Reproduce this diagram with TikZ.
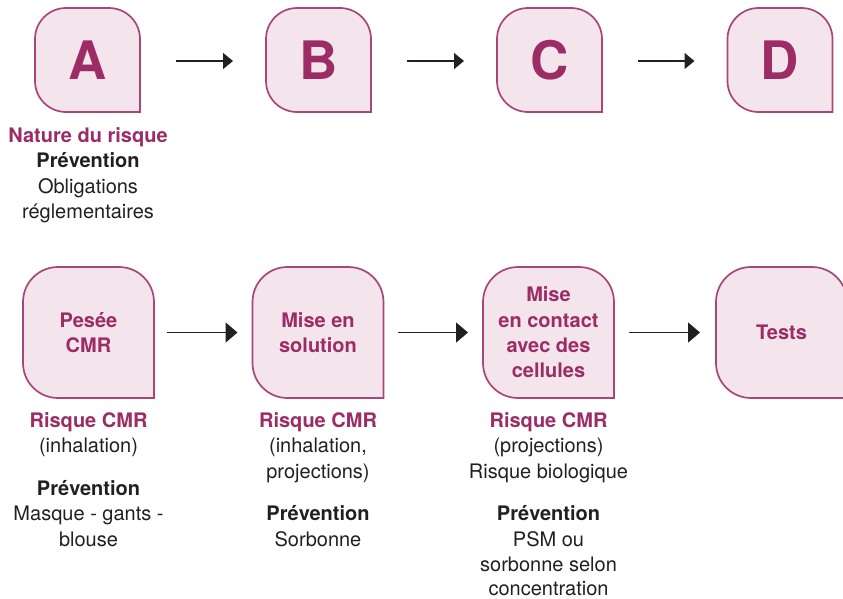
\documentclass[tikz,border=0pt]{standalone}
\usepackage{fontspec}
\setmainfont{TeX Gyre Heros}
\usetikzlibrary{arrows.meta,backgrounds}
\definecolor{mag}{HTML}{9C2C65}
\definecolor{boxfill}{HTML}{F4E4EC}
\definecolor{boxline}{HTML}{A8467A}
\definecolor{ink}{HTML}{231F20}
\tikzset{
  leaf/.style={draw=boxline, fill=boxfill, line width=1.7pt},
  boxtext/.style={inner sep=0pt, outer sep=0pt, align=center, text=mag,
     font=\fontsize{20}{25.3}\selectfont\bfseries},
  bigletter/.style={inner sep=0pt, outer sep=0pt, text=mag,
     font=\fontsize{53}{60}\selectfont\bfseries},
  head/.style={anchor=base, inner sep=0pt, text=mag, font=\fontsize{20}{25}\selectfont\bfseries},
  sub/.style={anchor=base, inner sep=0pt, text=ink, font=\fontsize{20}{25}\selectfont\bfseries},
  body/.style={anchor=base, inner sep=0pt, text=ink, font=\fontsize{20}{25}\selectfont},
  arrsmall/.style={draw=ink, line width=1.5pt, -{Triangle[length=10pt,width=16pt]}},
  arrbig/.style={draw=ink, line width=1.8pt, -{Triangle[length=12pt,width=20pt]}},
}
% name, x, y, w, h, r, style, text
\newcommand\leafbox[8]{%
  \node[#7, minimum width=#4pt, minimum height=#5pt] (#1) at (#2,#3) {#8};
  \begin{pgfonlayer}{background}
  \draw[leaf] (#1.south east) -- ([xshift=#6pt]#1.south west)
     arc[start angle=270,end angle=180,radius=#6pt]
     -- ([yshift=-#6pt]#1.north west)
     arc[start angle=180,end angle=90,radius=#6pt]
     -- ([xshift=-#6pt]#1.north east)
     arc[start angle=90,end angle=0,radius=#6pt]
     -- cycle;
  \end{pgfonlayer}
}
\begin{document}
\begin{tikzpicture}[x=1pt,y=1pt]
\useasboundingbox (0,0) rectangle (843,-598);
% top row
\leafbox{A}{87.5}{-60}{105}{104}{31}{bigletter}{A}
\leafbox{B}{318.5}{-60}{105}{104}{31}{bigletter}{B}
\leafbox{C}{549.5}{-60}{105}{104}{31}{bigletter}{C}
\leafbox{D}{780}{-60}{105}{104}{31}{bigletter}{D}
\draw[arrsmall] ([xshift=36pt,yshift=-1pt]A.east) -- ([xshift=-33pt,yshift=-1pt]B.west);
\draw[arrsmall] ([xshift=36pt,yshift=-1pt]B.east) -- ([xshift=-33pt,yshift=-1pt]C.west);
\draw[arrsmall] ([xshift=36pt,yshift=-1pt]C.east) -- ([xshift=-33pt,yshift=-1pt]D.west);
\node[head] (a1) at (88,-142) {Nature du risque};
\node[sub]  (a2) at (88,-167.5) {Prévention};
\node[body] (a3) at (88,-193) {Obligations};
\node[body] (a4) at (88,-218.5) {réglementaires};
% bottom row
\leafbox{P}{88.5}{-332.5}{131}{131}{35}{boxtext}{Pesée\\CMR}
\leafbox{S}{318}{-332.5}{131}{131}{35}{boxtext}{Mise en\\solution}
\leafbox{M}{548.5}{-332.5}{131}{131}{35}{boxtext}{Mise\\en contact\\avec des\\cellules}
\leafbox{T}{781.5}{-332.5}{131}{131}{35}{boxtext}{Tests}
\draw[arrbig] ([xshift=13pt]P.east) -- ([xshift=-15pt]S.west);
\draw[arrbig] ([xshift=14pt]S.east) -- ([xshift=-15pt]M.west);
\draw[arrbig] ([xshift=15pt]M.east) -- ([xshift=-16pt]T.west);
% column 1
\node[head] (p1) at (88.5,-427) {Risque CMR};
\node[body] (p2) at (88.5,-452.5) {(inhalation)};
\node[sub]  (p3) at (88.5,-495) {Prévention};
\node[body] (p4) at (88.5,-520.5) {Masque - gants -};
\node[body] (p5) at (88.5,-546) {blouse};
% column 2
\node[head] (s1) at (318,-427) {Risque CMR};
\node[body] (s2) at (318,-452.5) {(inhalation,};
\node[body] (s3) at (318,-478) {projections)};
\node[sub]  (s4) at (318,-520.5) {Prévention};
\node[body] (s5) at (318,-546) {Sorbonne};
% column 3
\node[head] (m1) at (548.5,-427) {Risque CMR};
\node[body] (m2) at (548.5,-452.5) {(projections)};
\node[body] (m3) at (548.5,-478) {Risque biologique};
\node[sub]  (m4) at (548.5,-520.5) {Prévention};
\node[body] (m5) at (548.5,-546) {PSM ou};
\node[body] (m6) at (548.5,-571) {sorbonne selon};
\node[body] (m7) at (548.5,-595) {concentration};
\end{tikzpicture}
\end{document}
